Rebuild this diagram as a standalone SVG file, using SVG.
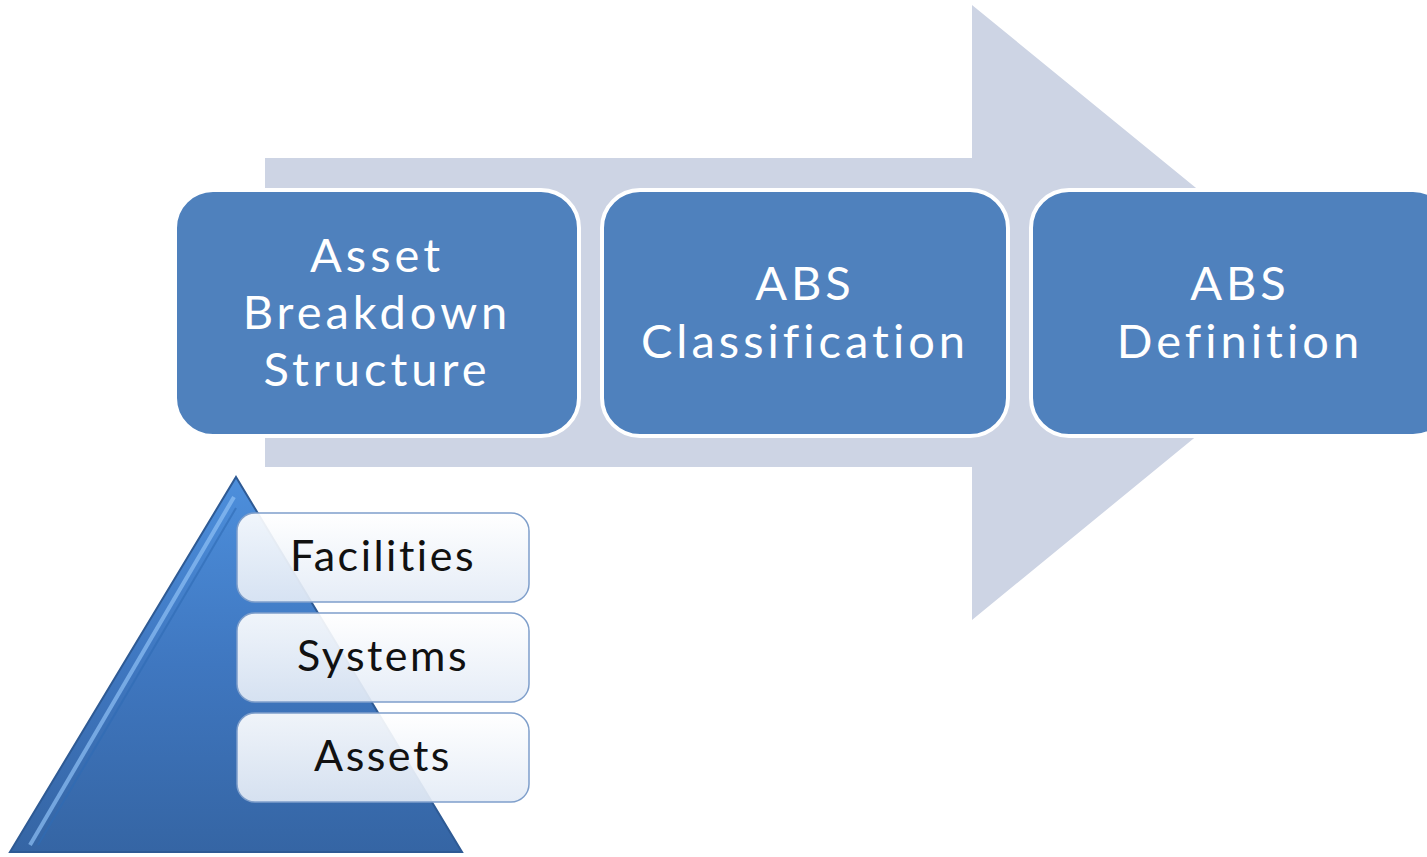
<svg xmlns="http://www.w3.org/2000/svg" width="1427" height="857" viewBox="0 0 1427 857">
  <style>
    .step { fill: #4f81bd; stroke: #ffffff; stroke-width: 4; }
    .steptxt { font-family: Lato, "Open Sans", "Liberation Sans", sans-serif; font-size: 47px; fill: #ffffff; text-anchor: middle; letter-spacing: 4px; }
    .lvl { fill: url(#lvlGrad); stroke: #7f9fcb; stroke-width: 1.5; }
    .lvltxt { font-family: Lato, "Open Sans", "Liberation Sans", sans-serif; font-size: 43px; fill: #111111; text-anchor: middle; letter-spacing: 2.5px; }
  </style>
  <defs>
    <linearGradient id="pyrGrad" x1="0" y1="0" x2="0" y2="1">
      <stop offset="0" stop-color="#4d8fdc"/>
      <stop offset="0.5" stop-color="#3f77c0"/>
      <stop offset="1" stop-color="#3565a4"/>
    </linearGradient>
    <linearGradient id="lvlGrad" x1="0" y1="0" x2="0" y2="1">
      <stop offset="0" stop-color="#ffffff" stop-opacity="0.92"/>
      <stop offset="1" stop-color="#e3ebf6" stop-opacity="0.92"/>
    </linearGradient>
  </defs>
  <rect x="0" y="0" width="1427" height="857" fill="#ffffff"/>

  <g id="flow-arrow">
    <polygon points="265,158 972,158 972,5 1348,312 972,620 972,467 265,467" fill="#cdd4e4"/>
  </g>

  <g id="step-abs">
    <rect class="step" x="175" y="190" width="404" height="246" rx="38"/>
    <text class="steptxt" x="377" y="272">Asset</text>
    <text class="steptxt" x="377" y="329">Breakdown</text>
    <text class="steptxt" x="377" y="386">Structure</text>
  </g>
  <g id="step-classification">
    <rect class="step" x="602" y="190" width="406" height="246" rx="38"/>
    <text class="steptxt" x="805" y="300">ABS</text>
    <text class="steptxt" x="805" y="358">Classification</text>
  </g>
  <g id="step-definition">
    <rect class="step" x="1031" y="190" width="420" height="246" rx="38"/>
    <text class="steptxt" x="1240" y="300">ABS</text>
    <text class="steptxt" x="1240" y="358">Definition</text>
  </g>

  <g id="pyramid">
    <polygon points="236,477 462,852 10,852" fill="url(#pyrGrad)" stroke="#2e5a94" stroke-width="2"/>
    <polyline points="30,845 234,497" fill="none" stroke="#8ec0f5" stroke-width="4" stroke-opacity="0.7"/>
    <polyline points="38,845 236,508" fill="none" stroke="#2f6ab4" stroke-width="2" stroke-opacity="0.6"/>
  </g>

  <g id="level-facilities">
    <rect class="lvl" x="237" y="513" width="292" height="89" rx="18"/>
    <text class="lvltxt" x="383" y="571">Facilities</text>
  </g>
  <g id="level-systems">
    <rect class="lvl" x="237" y="613" width="292" height="89" rx="18"/>
    <text class="lvltxt" x="383" y="671">Systems</text>
  </g>
  <g id="level-assets">
    <rect class="lvl" x="237" y="713" width="292" height="89" rx="18"/>
    <text class="lvltxt" x="383" y="771">Assets</text>
  </g>

  <g id="connectors"></g>
</svg>
